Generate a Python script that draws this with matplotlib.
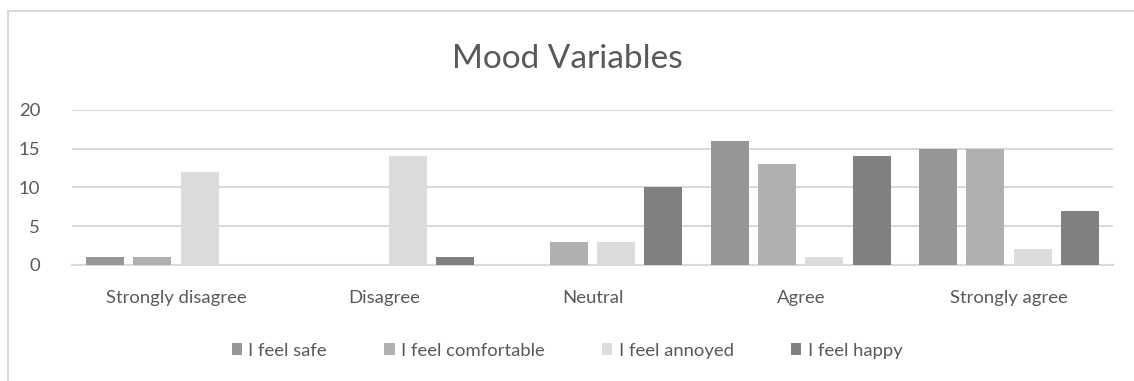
import matplotlib.pyplot as plt
import numpy as np
from matplotlib.patches import Rectangle

plt.rcParams['font.family'] = ['Lato', 'DejaVu Sans']

categories = ['Strongly disagree', 'Disagree', 'Neutral', 'Agree', 'Strongly agree']
series_names = ['I feel safe', 'I feel comfortable', 'I feel annoyed', 'I feel happy']
feel_safe = [1, 0, 0, 16, 15]
feel_comfortable = [1, 0, 3, 13, 15]
feel_annoyed = [12, 14, 3, 1, 2]
feel_happy = [0, 1, 10, 14, 7]
colors = ['#969696', '#b0b0b0', '#dcdcdc', '#808080']

text_color = '#595959'
grid_color = '#d9d9d9'

fig = plt.figure(figsize=(11.34, 3.81), dpi=100)
ax = fig.add_axes([0.0635, 0.3045, 0.918, 0.4068])

x = np.arange(len(categories))
width = 0.1825
step = 0.227
all_series = [feel_safe, feel_comfortable, feel_annoyed, feel_happy]
for i, (vals, name, c) in enumerate(zip(all_series, series_names, colors)):
    ax.bar(x + (i - 1.5) * step, vals, width, color=c, label=name, zorder=3)

ax.set_xlim(-0.5, len(categories) - 0.5)
ax.set_ylim(0, 20)
ax.set_yticks([0, 5, 10, 15, 20])
ax.set_xticks(x)
ax.set_xticklabels(categories)
ax.tick_params(axis='both', length=0, labelsize=13.3, labelcolor=text_color)
ax.tick_params(axis='y', pad=23)
ax.tick_params(axis='x', pad=18)
ax.yaxis.grid(True, color=grid_color, linewidth=1.5, zorder=0)
for side in ['top', 'right', 'left']:
    ax.spines[side].set_visible(False)
ax.spines['bottom'].set_color(grid_color)
ax.spines['bottom'].set_linewidth(1.5)

fig.suptitle('Mood Variables', fontsize=24, color=text_color, y=0.885)

fig.legend(loc='center', bbox_to_anchor=(0.5, 0.08), ncol=4, frameon=False,
           fontsize=13.3, labelcolor=text_color, handlelength=0.55, handleheight=0.55,
           handletextpad=0.35, columnspacing=3.1)

# chart area border
fig.patches.append(Rectangle((0.007, -0.1), 1.1, 1.071, transform=fig.transFigure,
                             fill=False, edgecolor=grid_color, linewidth=1.5))

fig.savefig('out.png', dpi=100, facecolor='white')
